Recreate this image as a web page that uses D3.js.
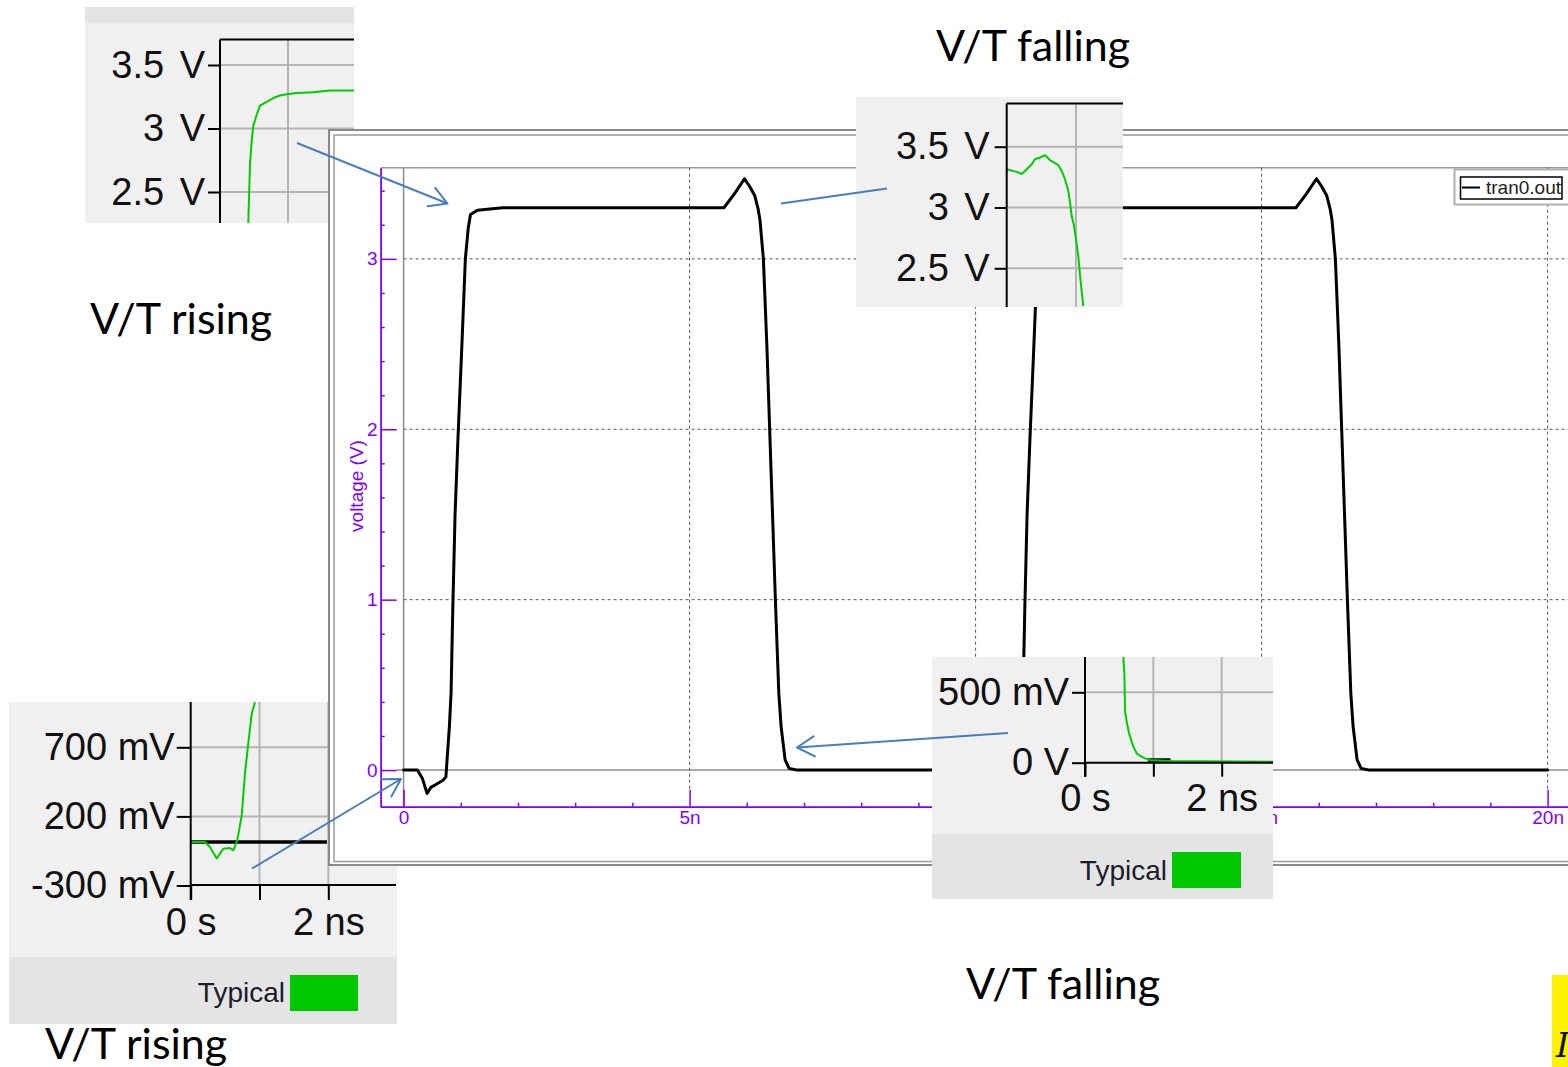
<!DOCTYPE html>
<html>
<head>
<meta charset="utf-8">
<script src="https://cdn.jsdelivr.net/npm/d3@7"></script>
<style>
  html, body { margin: 0; padding: 0; background: #ffffff; }
  svg { display: block; }
</style>
</head>
<body>
<svg id="canvas" width="1568" height="1067"></svg>
<script>
// ---------------- Transient trace: tran0.out (time in ns, voltage in V) ----------------
const timeNs = [
  0, 0.24, 0.33, 0.41, 0.48, 0.55, 0.69, 0.74, 0.76, 0.80, 0.83, 0.86, 0.90, 0.95, 1.02,
  1.08, 1.13, 1.17, 1.29, 1.73, 5.60, 5.78, 5.96, 6.04, 6.14, 6.20, 6.23, 6.29, 6.35,
  6.40, 6.50, 6.56, 6.60, 6.67, 6.74, 6.87,
  10.00, 10.24, 10.33, 10.41, 10.48, 10.55, 10.69, 10.74, 10.76, 10.80, 10.83, 10.86,
  10.90, 10.95, 11.02, 11.08, 11.13, 11.17, 11.29, 11.73, 15.60, 15.78, 15.96, 16.04,
  16.14, 16.20, 16.23, 16.29, 16.35, 16.40, 16.50, 16.56, 16.60, 16.67, 16.74, 16.87, 20.00
];
const outVolts = [
  0, 0, -0.05, -0.137, -0.10, -0.088, -0.06, -0.04, 0.06, 0.25, 0.45, 0.94, 1.50, 1.94, 2.50,
  3.00, 3.18, 3.26, 3.285, 3.30, 3.30, 3.38, 3.47, 3.43, 3.37, 3.29, 3.23, 3.00, 2.50,
  2.00, 1.00, 0.45, 0.255, 0.06, 0.01, 0,
  0, 0, -0.05, -0.137, -0.10, -0.088, -0.06, -0.04, 0.06, 0.25, 0.45, 0.94,
  1.50, 1.94, 2.50, 3.00, 3.18, 3.26, 3.285, 3.30, 3.30, 3.38, 3.47, 3.43,
  3.37, 3.29, 3.23, 3.00, 2.50, 2.00, 1.00, 0.45, 0.255, 0.06, 0.01, 0, 0
];
const mainXTicks = [0, 5, 10, 15, 20];
const mainXTickLabels = ["0", "5n", "10n", "15n", "20n"];
const mainXMinorTicks = [1, 2, 3, 4, 6, 7, 8, 9, 11, 12, 13, 14, 16, 17, 18, 19];
const mainYTicks = [0, 1, 2, 3];
const mainYMinorTicks = [0.2, 0.4, 0.6, 0.8, 1.2, 1.4, 1.6, 1.8, 2.2, 2.4, 2.6, 2.8, 3.2, 3.4];
const mainYLabel = "voltage (V)";
const mainLegend = "tran0.out";

// ---------------- Detail views (Typical corner) ----------------
// rising edge, top corner
const riseTopT = [0.916, 0.941, 0.966, 0.99, 1.04, 1.088, 1.187, 1.284, 1.382, 1.48, 1.628, 1.872, 2.118, 2.47];
const riseTopV = [2.25, 2.72, 2.90, 3.02, 3.11, 3.18, 3.21, 3.24, 3.26, 3.27, 3.28, 3.285, 3.30, 3.30];
const riseTopTicks = [2.5, 3, 3.5];
// falling edge, top corner
const fallTopT = [5.5, 5.644, 5.716, 5.789, 5.861, 5.908, 5.981, 6.053, 6.125, 6.197, 6.245,
                  6.294, 6.342, 6.389, 6.414, 6.438, 6.471, 6.5, 6.533, 6.558, 6.605];
const fallTopV = [3.315, 3.293, 3.276, 3.315, 3.356, 3.397, 3.411, 3.43, 3.39, 3.364, 3.348,
                  3.30, 3.233, 3.137, 3.04, 2.93, 2.85, 2.74, 2.60, 2.44, 2.19];
const fallTopTicks = [2.5, 3, 3.5];
// rising edge, low corner
const riseLowT = [0, 0.208, 0.28, 0.378, 0.426, 0.474, 0.571, 0.619, 0.677, 0.741, 0.789, 0.837, 0.887, 0.934];
const riseLowV = [0.015, 0.015, -0.021, -0.105, -0.069, -0.034, -0.029, -0.046, 0.026, 0.204, 0.514, 0.729, 0.943, 1.026];
const riseLowTicks = [-0.3, 0.2, 0.7];
const riseLowTickLabels = ["-300 mV", "200 mV", "700 mV"];
const riseLowRef = { t: [0, 1.98], v: 0.015 };
// falling edge, low corner
const fallLowT = [0.561, 0.576, 0.586, 0.611, 0.644, 0.707, 0.757, 0.805, 0.878, 0.952, 1.245, 2.75];
const fallLowV = [0.753, 0.635, 0.362, 0.291, 0.209, 0.114, 0.067, 0.048, 0.031, 0.019, 0.012, 0.007];
const fallLowTicks = [0, 0.5];
const fallLowTickLabels = ["0 V", "500 mV"];
const fallLowRef = { t: [0.92, 1.25], v: 0.02 };
const timeTicks = [0, 1, 2];
const timeTickLabels = ["0 s", "", "2 ns"];
const cornerLegend = "Typical";

// ---------------- Slide captions ----------------
const captions = [
  { text: "V/T falling", x: 936, y: 61 },
  { text: "V/T rising", x: 90, y: 334 },
  { text: "V/T falling", x: 966, y: 999 },
  { text: "V/T rising", x: 45, y: 1059 }
];

// ======================================================================
const svg = d3.select("#canvas");
const SANS = "'Liberation Sans', Arial, sans-serif";
const PURPLE = "#7f00ff";
const GREEN = "#00cc00";
const ARROW = "#4a7ebb";

const defs = svg.append("defs");
defs.append("marker")
  .attr("id", "openHead")
  .attr("markerUnits", "userSpaceOnUse")
  .attr("viewBox", "-22 -13 26 26")
  .attr("markerWidth", 26).attr("markerHeight", 26)
  .attr("refX", 0).attr("refY", 0)
  .attr("orient", "auto")
  .append("path")
  .attr("d", "M-17.3,-10 L0,0 L-17.3,10")
  .attr("fill", "none").attr("stroke", ARROW).attr("stroke-width", 2)
  .attr("stroke-linecap", "round").attr("stroke-linejoin", "round");

// ---------- detail view builder ----------
let clipCount = 0;
function drawCorner(cfg) {
  const g = svg.append("g");
  const [pl, pt, pr, pb] = cfg.panel;
  g.append("rect").attr("x", pl).attr("y", pt).attr("width", pr - pl).attr("height", pb - pt)
    .attr("fill", "#f0f0f0");
  if (cfg.strip) {
    g.append("rect").attr("x", pl).attr("y", cfg.strip[0]).attr("width", pr - pl)
      .attr("height", cfg.strip[1] - cfg.strip[0]).attr("fill", "#e4e4e4");
  }
  const [L, T, R, B] = cfg.plot;
  const x = d3.scaleLinear().domain(cfg.xDomain).range(cfg.xRange);
  const y = d3.scaleLinear().domain(cfg.yDomain).range(cfg.yRange);

  const id = "cornerClip" + (clipCount++);
  defs.append("clipPath").attr("id", id).append("rect")
    .attr("x", L).attr("y", T).attr("width", R - L).attr("height", B - T);
  const plot = g.append("g").attr("clip-path", `url(#${id})`);

  plot.selectAll("line.gx").data(cfg.gridX).join("line")
    .attr("x1", d => x(d)).attr("x2", d => x(d)).attr("y1", T).attr("y2", B)
    .attr("stroke", "#b4b4b4").attr("stroke-width", 2);
  plot.selectAll("line.gy").data(cfg.gridY).join("line")
    .attr("x1", L).attr("x2", R).attr("y1", d => y(d)).attr("y2", d => y(d))
    .attr("stroke", "#b4b4b4").attr("stroke-width", 2);

  if (cfg.ref) {
    plot.append("line")
      .attr("x1", x(cfg.ref.t[0])).attr("x2", x(cfg.ref.t[1]))
      .attr("y1", y(cfg.ref.v)).attr("y2", y(cfg.ref.v))
      .attr("stroke", "#000").attr("stroke-width", 3.5);
  }
  const line = d3.line().x(i => x(cfg.t[i])).y(i => y(cfg.v[i]));
  plot.append("path").attr("d", line(d3.range(cfg.t.length)))
    .attr("fill", "none").attr("stroke", GREEN).attr("stroke-width", 2)
    .attr("stroke-linejoin", "round");

  // vertical axis
  const yAxis = d3.axisLeft(y).tickValues(cfg.yTicks).tickSize(cfg.yTickLen)
    .tickPadding(cfg.yPad).tickSizeOuter(0).tickFormat((d, i) => cfg.yLabels[i]);
  const ya = g.append("g").attr("transform", `translate(${L},0)`).call(yAxis);
  ya.select(".domain").remove();
  ya.selectAll(".tick line").attr("stroke", "#000").attr("stroke-width", 2);
  ya.selectAll(".tick text").attr("fill", "#111").attr("font-family", SANS)
    .attr("font-size", 38).style("word-spacing", cfg.wordSpacing || "0px");
  g.append("line").attr("x1", L).attr("x2", L).attr("y1", T).attr("y2", cfg.axisBottom || B)
    .attr("stroke", "#000").attr("stroke-width", 2);

  if (cfg.topBorder) {
    g.append("line").attr("x1", L).attr("x2", R).attr("y1", T).attr("y2", T)
      .attr("stroke", "#000").attr("stroke-width", 2);
  }
  if (cfg.timeAxis) {
    const xAxis = d3.axisBottom(x).tickValues(timeTicks).tickSize(cfg.xTickLen)
      .tickPadding(cfg.xPad).tickSizeOuter(0).tickFormat((d, i) => timeTickLabels[i]);
    const xa = g.append("g").attr("transform", `translate(0,${B})`).call(xAxis);
    xa.select(".domain").remove();
    xa.selectAll(".tick line").attr("stroke", "#000").attr("stroke-width", 2);
    xa.selectAll(".tick text").attr("fill", "#111").attr("font-family", SANS).attr("font-size", 38);
    g.append("line").attr("x1", L).attr("x2", cfg.axisRight).attr("y1", B).attr("y2", B)
      .attr("stroke", "#000").attr("stroke-width", 2);
  }
  if (cfg.legend) {
    const lg = cfg.legend;
    g.append("text").attr("x", lg.textX).attr("y", lg.textY).attr("text-anchor", "end")
      .attr("font-family", SANS).attr("font-size", 28).attr("fill", "#1c1c2a").text(cornerLegend);
    g.append("rect").attr("x", lg.sw[0]).attr("y", lg.sw[1]).attr("width", lg.sw[2]).attr("height", lg.sw[3])
      .attr("fill", "#00c800");
  }
}

// ---------- detail views lying under the main window ----------
drawCorner({
  panel: [85, 7, 354, 223], strip: [7, 23],
  plot: [220, 39.5, 354, 223],
  xDomain: [0.5, 2.5], xRange: [220, 356],
  yDomain: [2.5, 3.5], yRange: [192, 65],
  gridX: [1.5], gridY: [2.5, 3, 3.5],
  t: riseTopT, v: riseTopV,
  yTicks: riseTopTicks, yLabels: riseTopTicks.map(d => d + " V"),
  yTickLen: 12, yPad: 3, wordSpacing: "5px",
  topBorder: true
});
drawCorner({
  panel: [9, 702, 397, 1024], strip: [957, 1024],
  plot: [190.7, 702, 397, 885],
  xDomain: [0, 2], xRange: [190.7, 328.3],
  yDomain: [-0.3, 0.7], yRange: [885.5, 747.3],
  gridX: [1, 2], gridY: [0.2, 0.7],
  ref: riseLowRef,
  t: riseLowT, v: riseLowV,
  yTicks: riseLowTicks, yLabels: riseLowTickLabels,
  yTickLen: 14, yPad: 2,
  timeAxis: true, xTickLen: 15, xPad: 8, axisRight: 396, axisBottom: 900,
  legend: { textX: 285, textY: 1002, sw: [290, 975, 68, 36] }
});

// ---------- main simulator window ----------
const win = svg.append("g");
win.append("rect").attr("x", 329).attr("y", 130).attr("width", 1300).attr("height", 735)
  .attr("fill", "#ffffff").attr("stroke", "#8a8a8a").attr("stroke-width", 2);
win.append("rect").attr("x", 334).attr("y", 135).attr("width", 1300).attr("height", 726.5)
  .attr("fill", "none").attr("stroke", "#9a9a9a").attr("stroke-width", 1.5);

const x = d3.scaleLinear().domain([-0.4, 20.5]).range([380.7, 1576.2]);
const y = d3.scaleLinear().domain([-0.215, 3.535]).range([806.7, 167.7]);
const plotTop = 167.7, plotBottom = 806.7, plotRight = 1568;

// plot frame top
win.append("line").attr("x1", x(-0.4)).attr("x2", plotRight).attr("y1", plotTop).attr("y2", plotTop)
  .attr("stroke", "#9a9a9a").attr("stroke-width", 1.5);

// dotted grid
win.selectAll("line.hgrid").data(mainYTicks.filter(d => d !== 0)).join("line")
  .attr("x1", x(0)).attr("x2", plotRight).attr("y1", d => y(d)).attr("y2", d => y(d))
  .attr("stroke", "#555").attr("stroke-width", 1).attr("stroke-dasharray", "3,3");
win.selectAll("line.vgrid").data(mainXTicks.filter(d => d !== 0)).join("line")
  .attr("x1", d => x(d)).attr("x2", d => x(d)).attr("y1", plotTop).attr("y2", plotBottom - 17)
  .attr("stroke", "#555").attr("stroke-width", 1).attr("stroke-dasharray", "3,3");

// zero reference lines
win.append("line").attr("x1", x(-0.4) + 16).attr("x2", plotRight).attr("y1", y(0)).attr("y2", y(0))
  .attr("stroke", "#8a8a8a").attr("stroke-width", 1.5);
win.append("line").attr("x1", x(0)).attr("x2", x(0)).attr("y1", plotTop).attr("y2", plotBottom)
  .attr("stroke", "#8a8a8a").attr("stroke-width", 1.5);

// axes
function stylePurple(sel) {
  sel.selectAll("path.domain").attr("stroke", PURPLE).attr("stroke-width", 1.5);
  sel.selectAll(".tick line").attr("stroke", PURPLE).attr("stroke-width", 1.5);
  sel.selectAll(".tick text").attr("fill", PURPLE).attr("font-family", SANS).attr("font-size", 19);
}
const yMinorG = win.append("g").attr("transform", `translate(${x(-0.4)},0)`)
  .call(d3.axisLeft(y).tickValues(mainYMinorTicks).tickSize(-4).tickSizeOuter(0).tickFormat(""));
stylePurple(yMinorG);
const yMajorG = win.append("g").attr("transform", `translate(${x(-0.4)},0)`)
  .call(d3.axisLeft(y).tickValues(mainYTicks).tickSize(-16).tickPadding(3).tickSizeOuter(0)
    .tickFormat(d3.format("d")));
stylePurple(yMajorG);
const xMinorG = win.append("g").attr("transform", `translate(0,${plotBottom})`)
  .call(d3.axisBottom(x).tickValues(mainXMinorTicks).tickSize(-4).tickSizeOuter(0).tickFormat(""));
stylePurple(xMinorG);
const xMajorG = win.append("g").attr("transform", `translate(0,${plotBottom})`)
  .call(d3.axisBottom(x).tickValues(mainXTicks).tickSize(-17).tickPadding(4).tickSizeOuter(0)
    .tickFormat((d, i) => mainXTickLabels[i]));
stylePurple(xMajorG);

win.append("text")
  .attr("transform", `translate(363,486) rotate(-90)`)
  .attr("text-anchor", "middle").attr("font-family", SANS).attr("font-size", 19)
  .attr("fill", PURPLE).text(mainYLabel);

// waveform
const trace = d3.line().x(i => x(timeNs[i])).y(i => y(outVolts[i]));
win.append("path").attr("d", trace(d3.range(timeNs.length)))
  .attr("fill", "none").attr("stroke", "#000").attr("stroke-width", 3)
  .attr("stroke-linejoin", "round").attr("stroke-linecap", "round");

// legend box
win.append("rect").attr("x", 1454.5).attr("y", 169.5).attr("width", 130).attr("height", 35)
  .attr("fill", "#fff").attr("stroke", "#b0b0b0").attr("stroke-width", 2);
win.append("rect").attr("x", 1460.5).attr("y", 177).attr("width", 101.5).attr("height", 22)
  .attr("fill", "none").attr("stroke", "#000").attr("stroke-width", 1.5);
win.append("line").attr("x1", 1462).attr("x2", 1480).attr("y1", 187.5).attr("y2", 187.5)
  .attr("stroke", "#000").attr("stroke-width", 2);
win.append("text").attr("x", 1486).attr("y", 194).attr("font-family", SANS).attr("font-size", 19)
  .attr("fill", "#222").text(mainLegend);

// ---------- detail views lying over the main window ----------
drawCorner({
  panel: [856, 97, 1123, 307],
  plot: [1006.7, 103.5, 1123, 307],
  xDomain: [5.5, 7.5], xRange: [1006.7, 1145.3],
  yDomain: [2.5, 3.5], yRange: [268.3, 146.7],
  gridX: [6.5], gridY: [2.5, 3, 3.5],
  t: fallTopT, v: fallTopV,
  yTicks: fallTopTicks, yLabels: fallTopTicks.map(d => d + " V"),
  yTickLen: 12, yPad: 5, wordSpacing: "5px",
  topBorder: true
});
drawCorner({
  panel: [932, 657, 1273, 899], strip: [834, 899],
  plot: [1085, 657, 1273, 762.7],
  xDomain: [0, 2], xRange: [1085, 1221.7],
  yDomain: [0, 0.5], yRange: [762.7, 692.3],
  gridX: [1, 2], gridY: [0.5],
  ref: fallLowRef,
  t: fallLowT, v: fallLowV,
  yTicks: fallLowTicks, yLabels: fallLowTickLabels,
  yTickLen: 13, yPad: 3,
  timeAxis: true, xTickLen: 14, xPad: 7, axisRight: 1273, axisBottom: 776.7,
  legend: { textX: 1167, textY: 880, sw: [1172, 852, 69, 36] }
});

// ---------- call-out arrows ----------
const arrows = [
  { from: [297, 143], to: [447.5, 203.5], head: true },
  { from: [781, 203.5], to: [887, 188.5], head: false },
  { from: [1008, 733], to: [797, 747.5], head: true },
  { from: [252, 868.5], to: [401, 779], head: true }
];
svg.selectAll("line.callout").data(arrows).join("line")
  .attr("x1", d => d.from[0]).attr("y1", d => d.from[1])
  .attr("x2", d => d.to[0]).attr("y2", d => d.to[1])
  .attr("stroke", ARROW).attr("stroke-width", 2)
  .attr("marker-end", d => d.head ? "url(#openHead)" : null);

// ---------- captions ----------
svg.selectAll("text.caption").data(captions).join("text")
  .attr("x", d => d.x).attr("y", d => d.y)
  .attr("font-family", "Lato, 'Open Sans', sans-serif").attr("font-size", 43)
  .attr("fill", "#000").text(d => d.text);

// highlighted note at the slide edge
svg.append("rect").attr("x", 1552).attr("y", 975).attr("width", 16).attr("height", 92).attr("fill", "#fff200");
svg.append("text").attr("x", 1556).attr("y", 1057).attr("font-family", "'DejaVu Serif', serif")
  .attr("font-style", "italic").attr("font-size", 34).attr("fill", "#111").text("I");
</script>
</body>
</html>
